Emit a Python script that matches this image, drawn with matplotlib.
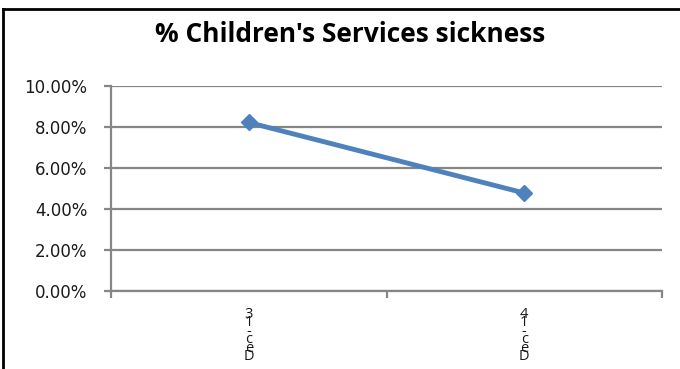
import matplotlib
matplotlib.use("Agg")
import matplotlib.pyplot as plt
from matplotlib.ticker import FuncFormatter
from matplotlib.lines import Line2D
from matplotlib.transforms import blended_transform_factory

categories = ["Dec-13", "Dec-14"]
values = [8.22, 4.78]
yticks = [0, 2, 4, 6, 8, 10]
title = "% Children's Services sickness"

fig = plt.figure(figsize=(6.8, 3.69), dpi=100)
ax = fig.add_axes([111/680, 1 - 291/369, (662-111)/680, (291-86)/369])

x = list(range(len(categories)))
ax.plot(x, values, color="#4F81BD", lw=3.5, marker="D", ms=8.5,
        markerfacecolor="#4F81BD", markeredgecolor="#4F81BD", solid_capstyle="round")

ax.set_xlim(-0.5, len(categories) - 0.5)
ax.set_ylim(0, 10)
ax.set_yticks(yticks)
ax.yaxis.set_major_formatter(FuncFormatter(lambda v, p: f"{v:.2f}%"))
ax.grid(axis="y", color="#868686", lw=1.6)
ax.set_axisbelow(True)
for s in ["top", "right"]:
    ax.spines[s].set_visible(False)
ax.spines["left"].set_color("#868686")
ax.spines["left"].set_linewidth(1.6)
ax.spines["bottom"].set_color("#868686")
ax.spines["bottom"].set_linewidth(1.6)
ax.tick_params(axis="y", length=5, width=1.6, color="#868686", labelsize=12, pad=12,
               labelcolor="#1a1a1a")
for lab in ax.get_yticklabels():
    lab.set_family("DejaVu Sans")

# category ticks at boundaries
ax.set_xticks([i - 0.5 for i in range(len(categories) + 1)])
ax.set_xticklabels([])
ax.tick_params(axis="x", length=5, width=1.6, color="#868686", direction="out")

# stacked vertical category labels (characters upright, read bottom-to-top)
trans = blended_transform_factory(ax.transData, fig.transFigure)
step_px = 8.5
for i, c in enumerate(categories):
    chars = list(reversed(c))
    n = len(chars)
    for k, ch in enumerate(chars):
        ypix = 360 - (n - 1 - k) * step_px
        ax.text(i, 1 - ypix/369, ch, transform=trans,
                ha="center", va="baseline", fontsize=10.5, family="Open Sans",
                color="#1a1a1a")

fig.text(350/680, 1 - 34/369, title, ha="center", va="center", fontsize=19,
         fontweight="bold", family="Open Sans", color="#000000")

# chart border (top and left visible)
fig.add_artist(Line2D([3/680, 3/680], [0, 1 - 9/369], transform=fig.transFigure,
                      color="black", lw=2))
fig.add_artist(Line2D([3/680, 1], [1 - 9/369, 1 - 9/369], transform=fig.transFigure,
                      color="black", lw=2))

fig.savefig("out.png", dpi=100)
